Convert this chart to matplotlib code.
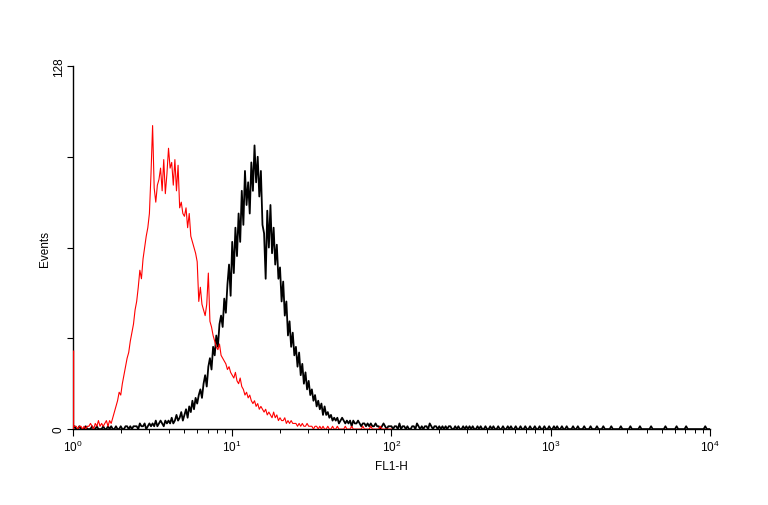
import numpy as np
import matplotlib
matplotlib.use("Agg")
import matplotlib.pyplot as plt
from matplotlib.ticker import FixedLocator, FixedFormatter, LogLocator, NullFormatter

plt.rcParams['font.family'] = ['Liberation Sans', 'DejaVu Sans']

# channel positions: 0.01 decade steps (log10 of FL1-H)
red_decades = np.arange(0, 201) / 100.0
black_decades = np.arange(0, 401) / 100.0

# control (red), counts per channel; first value is the pile-up at 10^0
red_counts = [
    28, 1, 1, 0, 1, 1, 0, 1, 0, 1,
    1, 2, 1, 0, 2, 1, 3, 1, 2, 1,
    2, 3, 1, 3, 2, 4, 6, 8, 10, 13,
    12, 16, 19, 22, 25, 27, 31, 34, 37, 42,
    45, 50, 56, 53, 60, 64, 68, 71, 76, 90,
    107, 85, 80, 86, 88, 92, 84, 95, 83, 90,
    99, 92, 94, 86, 95, 84, 93, 78, 80, 76,
    75, 78, 71, 76, 68, 66, 64, 62, 59, 45,
    50, 44, 42, 40, 44, 55, 38, 36, 33, 31,
    29, 28, 30, 26, 25, 24, 23, 21, 22, 20,
    19, 18, 20, 17, 16, 18, 15, 14, 12, 13,
    11, 12, 10, 9, 10, 8, 9, 7, 8, 7,
    6, 7, 5, 6, 5, 4, 6, 4, 5, 3,
    4, 3, 3, 4, 2, 3, 2, 3, 2, 2,
    2, 1, 2, 1, 2, 1, 1, 2, 1, 1,
    1, 0, 1, 1, 0, 1, 0, 1, 0, 0,
    1, 0, 0, 1, 0, 0, 1, 0, 0, 0,
    0, 1, 0, 0, 0, 1, 0, 0, 0, 0,
    0, 0, 1, 0, 0, 0, 0, 1, 0, 0,
    0, 0, 0, 1, 0, 0, 0, 0, 0, 0,
    0,
]

# stained sample (black)
black_counts = [
    0, 1, 0, 0, 1, 0, 0, 0, 1, 0,
    0, 0, 1, 0, 0, 1, 0, 0, 0, 1,
    0, 0, 1, 0, 1, 0, 0, 1, 0, 0,
    1, 0, 0, 1, 1, 0, 1, 0, 1, 1,
    1, 0, 2, 1, 1, 2, 0, 1, 2, 1,
    2, 1, 3, 1, 2, 3, 2, 1, 3, 2,
    3, 2, 4, 2, 3, 5, 3, 4, 6, 3,
    5, 7, 4, 8, 6, 10, 7, 11, 9, 12,
    14, 11, 16, 19, 15, 22, 25, 21, 29, 26,
    33, 29, 37, 40, 36, 46, 41, 51, 58, 47,
    66, 55, 71, 61, 76, 66, 84, 72, 91, 79,
    87, 76, 94, 84, 100, 87, 96, 82, 91, 72,
    69, 53, 77, 64, 79, 62, 71, 58, 65, 53,
    57, 45, 52, 40, 45, 33, 38, 29, 34, 26,
    29, 22, 27, 19, 23, 16, 20, 14, 17, 12,
    14, 10, 12, 8, 10, 7, 9, 5, 8, 5,
    6, 4, 5, 3, 4, 3, 4, 2, 3, 4,
    3, 2, 3, 2, 3, 1, 3, 2, 2, 3,
    2, 1, 2, 2, 1, 2, 1, 2, 1, 1,
    2, 1, 1, 0, 1, 2, 1, 0, 1, 1,
    1, 0, 1, 1, 0, 2, 0, 1, 1, 0,
    1, 0, 0, 1, 1, 0, 2, 1, 0, 1,
    0, 1, 1, 0, 2, 1, 0, 1, 1, 0,
    1, 0, 1, 0, 1, 0, 1, 1, 0, 0,
    1, 0, 1, 0, 0, 1, 0, 1, 0, 1,
    0, 1, 0, 0, 1, 0, 1, 0, 0, 1,
    0, 0, 1, 0, 1, 0, 0, 1, 0, 0,
    1, 0, 0, 1, 0, 1, 0, 0, 1, 0,
    0, 1, 0, 0, 1, 0, 0, 1, 0, 0,
    1, 0, 0, 1, 0, 0, 1, 0, 0, 1,
    0, 0, 1, 0, 1, 0, 0, 1, 0, 0,
    1, 0, 0, 0, 1, 0, 0, 1, 0, 0,
    0, 1, 0, 0, 0, 1, 0, 0, 0, 1,
    0, 0, 0, 1, 0, 0, 0, 0, 1, 0,
    0, 0, 0, 0, 1, 0, 0, 0, 0, 0,
    1, 0, 0, 0, 0, 0, 1, 0, 0, 0,
    0, 0, 0, 1, 0, 0, 0, 0, 0, 0,
    0, 0, 1, 0, 0, 0, 0, 0, 0, 1,
    0, 0, 0, 0, 0, 1, 0, 0, 0, 0,
    0, 0, 0, 0, 0, 0, 0, 1, 0, 0,
    0,
]

x_major = [1, 10, 100, 1000, 10000]
x_labels = [r'$\mathregular{10^{0}}$', r'$\mathregular{10^{1}}$', r'$\mathregular{10^{2}}$',
            r'$\mathregular{10^{3}}$', r'$\mathregular{10^{4}}$']
y_ticks = [0, 32, 64, 96, 128]
y_labels = ['0', '', '', '', '128']

fig = plt.figure(figsize=(7.68, 5.06), dpi=100)
ax = fig.add_axes([0.095, 0.150, 0.8295, 0.7176])

red_x = 10 ** red_decades
ax.plot(10 ** black_decades, black_counts, color='black', lw=1.3, zorder=2)
# pile-up in the first channel drawn as a vertical bar, rest as a trace
ax.vlines(red_x[0], 0, red_counts[0], color='red', lw=1.0, zorder=3)
ax.plot(red_x[1:], red_counts[1:], color='red', lw=0.8, zorder=3)

ax.set_xscale('log')
ax.set_xlim(1, 10000)
ax.set_ylim(0, 128)

ax.xaxis.set_major_locator(FixedLocator(x_major))
ax.xaxis.set_major_formatter(FixedFormatter(x_labels))
ax.xaxis.set_minor_locator(LogLocator(base=10, subs=np.arange(2, 10)))
ax.xaxis.set_minor_formatter(NullFormatter())
ax.yaxis.set_major_locator(FixedLocator(y_ticks))
ax.yaxis.set_major_formatter(FixedFormatter(y_labels))

ax.spines['top'].set_visible(False)
ax.spines['right'].set_visible(False)
for s in ('left', 'bottom'):
    ax.spines[s].set_linewidth(1.0)

ax.tick_params(axis='x', which='major', length=5, width=0.8, labelsize=8.5, pad=2)
ax.tick_params(axis='x', which='minor', length=3, width=0.7)
ax.tick_params(axis='y', which='major', length=4, width=0.8, labelsize=8.5, pad=2)
for lbl in ax.get_yticklabels():
    lbl.set_rotation(90)
    lbl.set_va('center')

ax.set_xlabel('FL1-H', fontsize=8.5, labelpad=4)
ax.set_ylabel('Events', fontsize=8.5, labelpad=1)

fig.savefig('out.png', dpi=100)
